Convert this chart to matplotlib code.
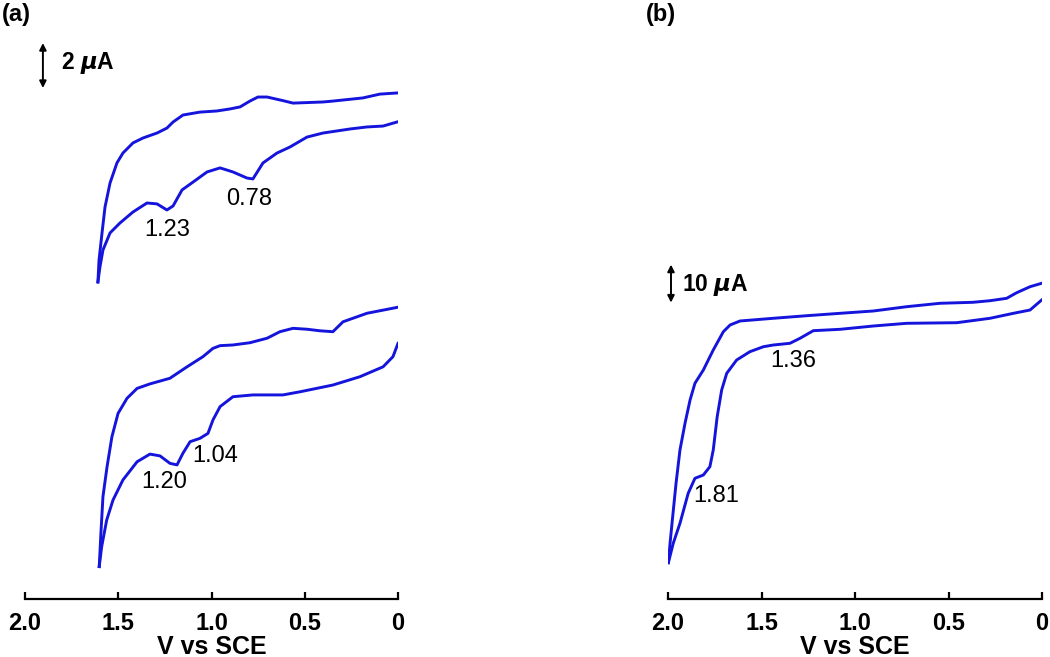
import matplotlib.pyplot as plt

plt.rcParams["font.family"] = ["Liberation Sans", "DejaVu Sans"]

BLUE = "#1414dc"

# panel (a), upper CV: potential (V vs SCE) and current (uA, stacked offset)
a1_up_v = [0.005, 0.097, 0.188, 0.349, 0.402, 0.563, 0.617, 0.702, 0.751, 0.794,
           0.847, 0.901, 0.971, 1.062, 1.153, 1.206, 1.239, 1.292, 1.367, 1.421,
           1.475, 1.507, 1.544, 1.571, 1.587, 1.603, 1.609]
a1_up_i = [22.49, 22.44, 22.27, 22.13, 22.09, 22.04, 22.15, 22.31, 22.31, 22.13,
           21.87, 21.78, 21.69, 21.64, 21.51, 21.20, 20.93, 20.71, 20.49, 20.27,
           19.82, 19.38, 18.49, 17.42, 16.27, 15.07, 14.09]
a1_lo_v = [1.609, 1.598, 1.582, 1.544, 1.491, 1.421, 1.346, 1.292, 1.239, 1.206,
           1.158, 1.099, 1.024, 0.954, 0.885, 0.810, 0.778, 0.724, 0.649, 0.579,
           0.488, 0.402, 0.257, 0.166, 0.080, 0.005]
a1_lo_i = [14.09, 14.76, 15.51, 16.27, 16.71, 17.20, 17.60, 17.56, 17.29, 17.47,
           18.18, 18.53, 18.98, 19.16, 18.98, 18.71, 18.67, 19.38, 19.82, 20.09,
           20.53, 20.71, 20.89, 20.98, 21.02, 21.20]

# panel (a), lower CV
a2_up_v = [0.005, 0.166, 0.295, 0.349, 0.418, 0.488, 0.563, 0.633, 0.702, 0.794,
           0.885, 0.954, 0.992, 1.046, 1.131, 1.223, 1.330, 1.399, 1.453, 1.501,
           1.534, 1.560, 1.582, 1.592, 1.602]
a2_up_i = [12.96, 12.70, 12.32, 11.88, 11.92, 11.99, 12.03, 11.88, 11.59, 11.39,
           11.29, 11.26, 11.14, 10.77, 10.32, 9.81, 9.56, 9.36, 8.92, 8.25,
           7.21, 5.88, 4.55, 3.07, 1.44]
a2_lo_v = [1.602, 1.589, 1.562, 1.528, 1.475, 1.399, 1.330, 1.276, 1.223, 1.185,
           1.153, 1.115, 1.062, 1.019, 0.992, 0.954, 0.885, 0.778, 0.617, 0.525,
           0.349, 0.204, 0.080, 0.027, 0.000]
a2_lo_i = [1.44, 2.32, 3.51, 4.40, 5.29, 6.10, 6.44, 6.36, 6.03, 5.96,
           6.48, 6.99, 7.14, 7.36, 7.96, 8.55, 8.99, 9.07, 9.07, 9.21,
           9.51, 9.88, 10.32, 10.77, 11.36]

# panel (b)
b_up_v = [0.002, 0.064, 0.135, 0.189, 0.278, 0.369, 0.545, 0.724, 0.902, 1.080,
          1.258, 1.437, 1.615, 1.668, 1.704, 1.758, 1.811, 1.856, 1.882, 1.909,
          1.936, 1.957, 1.975, 1.989, 1.998]
b_up_i = [83.08, 82.18, 80.61, 79.13, 78.50, 78.08, 77.82, 76.92, 75.79, 75.18,
          74.55, 73.87, 73.16, 72.11, 70.34, 65.53, 60.26, 56.76, 52.37, 46.24,
          39.21, 30.45, 21.66, 14.66, 9.55]
b_lo_v = [1.998, 1.972, 1.936, 1.892, 1.856, 1.811, 1.776, 1.758, 1.737, 1.713,
          1.686, 1.633, 1.562, 1.490, 1.437, 1.348, 1.294, 1.223, 1.080, 0.902,
          0.724, 0.456, 0.278, 0.153, 0.064, 0.002]
b_lo_i = [9.55, 14.66, 19.92, 27.82, 31.76, 32.63, 34.82, 39.21, 47.97, 55.00,
          59.39, 62.89, 65.08, 66.39, 66.84, 67.29, 68.61, 70.61, 70.97, 71.84,
          72.55, 72.71, 73.87, 75.18, 76.05, 78.68]

# peak labels: (text, V, uA)
a_peaks = [("1.23", 1.239, 16.42), ("0.78", 0.799, 17.78),
           ("1.20", 1.255, 5.20), ("1.04", 0.981, 6.36)]
b_peaks = [("1.36", 1.332, 62.63), ("1.81", 1.743, 27.11)]

xticks = [2.0, 1.5, 1.0, 0.5, 0.0]
xticklabels = ["2.0", "1.5", "1.0", "0.5", "0"]


def style_axis(ax, ymax):
    ax.set_xlim(2.0, 0.0)
    ax.set_ylim(0, ymax)
    for s in ["left", "right", "top"]:
        ax.spines[s].set_visible(False)
    ax.spines["bottom"].set_linewidth(1.6)
    ax.set_yticks([])
    ax.set_xticks(xticks)
    ax.set_xticklabels(xticklabels, fontsize=17, fontweight="bold")
    ax.tick_params(axis="x", direction="in", length=5, width=1.6, pad=9)
    ax.set_xlabel("V vs SCE", fontsize=18, fontweight="bold", labelpad=0)
    ax.patch.set_visible(False)


def scale_bar(ax, x, y0, y1, xt, yt, label):
    ax.annotate("", xy=(x, y1), xytext=(x, y0),
                arrowprops=dict(arrowstyle="<|-|>", color="black", lw=1.4,
                                mutation_scale=10, shrinkA=0, shrinkB=0),
                annotation_clip=False)
    ax.text(xt, yt, label, fontsize=16.5, fontweight="bold", va="center", ha="left")


fig = plt.figure(figsize=(10.5, 6.57), dpi=100)
bottom = 1 - 599 / 657
height = 599 / 657

ax_a = fig.add_axes([25 / 1050, bottom, 373 / 1050, height])
ax_b = fig.add_axes([668 / 1050, bottom, 374 / 1050, height])

for v, i in [(a1_up_v, a1_up_i), (a1_lo_v, a1_lo_i), (a2_up_v, a2_up_i), (a2_lo_v, a2_lo_i)]:
    ax_a.plot(v, i, color=BLUE, lw=2.1, solid_joinstyle="round")
for v, i in [(b_up_v, b_up_i), (b_lo_v, b_lo_i)]:
    ax_b.plot(v, i, color=BLUE, lw=2.1, solid_joinstyle="round")

style_axis(ax_a, 599 / 22.5)
style_axis(ax_b, 599 / 3.8)

for t, v, i in a_peaks:
    ax_a.text(v, i, t, fontsize=17, ha="center", va="center")
for t, v, i in b_peaks:
    ax_b.text(v, i, t, fontsize=17, ha="center", va="center")

scale_bar(ax_a, 1.904, 22.71, 24.71, 1.807, 23.82, r"2 $\mathbfit{\mu}$A")
scale_bar(ax_b, 1.984, 78.0, 88.0, 1.925, 82.6, r"10 $\mathbfit{\mu}$A")

fig.text(2 / 1050, 1 - 3 / 657, "(a)", fontsize=17, fontweight="bold", ha="left", va="top")
fig.text(646 / 1050, 1 - 3 / 657, "(b)", fontsize=17, fontweight="bold", ha="left", va="top")

fig.savefig("out.png", dpi=100)
